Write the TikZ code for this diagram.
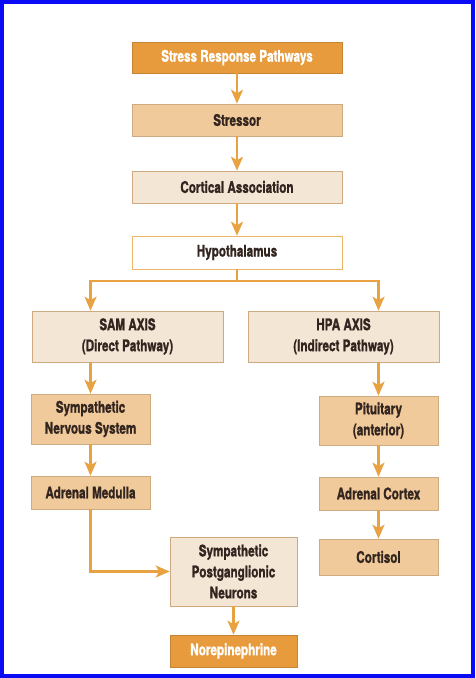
\documentclass[tikz,border=0pt]{standalone}
\usepackage{fontspec}
\setmainfont{TeX Gyre Heros}[FakeStretch=0.73,BoldFeatures={FakeBold=1.2}]
\usepackage{tikz}
\usetikzlibrary{arrows.meta,positioning}
\definecolor{frame}{RGB}{10,10,245}
\definecolor{deep}{RGB}{232,155,60}
\definecolor{soft}{RGB}{241,202,155}
\definecolor{pale}{RGB}{244,230,213}
\definecolor{edge}{RGB}{205,170,130}
\definecolor{flowc}{RGB}{233,162,66}
\definecolor{ink}{RGB}{50,36,30}

\begin{document}
\begin{tikzpicture}[x=1pt,y=-1pt,
	box/.style={draw=edge,line width=0.6pt,inner sep=0pt,align=center,text=ink,
		font=\bfseries\fontsize{16}{21}\selectfont},
	wide/.style={box,minimum width=210pt},
	half/.style={box,minimum width=191pt,minimum height=51pt},
	small/.style={box,minimum width=119pt},
	mid/.style={box,minimum width=127pt},
	head/.style={fill=deep,text=white,draw=deep!85!black},
	flow/.style={draw=flowc,line width=2.2pt,-{Stealth[length=14pt,width=12pt,inset=3.5pt]}},
	link/.style={draw=flowc,line width=2.2pt}]
	% frame
	\draw[frame,line width=3.6pt] (1.8,1.8) rectangle (473.2,676.2);
	% centre column
	\node[wide,head,minimum height=31pt] (title) at (237,57.5) {Stress Response Pathways};
	\node[wide,fill=soft,minimum height=32pt] (stressor) at (237,120) {Stressor};
	\node[wide,fill=pale,minimum height=32pt] (cortical) at (237,187) {Cortical Association};
	\node[wide,fill=white,draw=flowc!80,minimum height=33pt] (hypo) at (237,252.5) {Hypothalamus};
	% two axes
	\node[half,fill=pale] (sam) at (127.5,336.5) {SAM AXIS\\(Direct Pathway)};
	\node[half,fill=pale] (hpa) at (343.5,336.5) {HPA AXIS\\(Indirect Pathway)};
	% SAM side
	\node[small,fill=soft,minimum height=50pt] (sns) at (90.5,419) {Sympathetic\\Nervous System};
	\node[small,fill=soft,minimum height=33pt] (medulla) at (90.5,492.5) {Adrenal Medulla};
	\node[mid,fill=pale,minimum height=69pt] (neurons) at (233.5,571.5) {Sympathetic\\Postganglionic\\Neurons};
	\node[mid,head,minimum height=32pt] (norepi) at (233.5,651) {Norepinephrine};
	% HPA side
	\node[small,fill=soft,minimum height=49pt] (pit) at (378.5,420.5) {Pituitary\\(anterior)};
	\node[small,fill=soft,minimum height=33pt] (cortex) at (378.5,493.5) {Adrenal Cortex};
	\node[small,fill=soft,minimum height=36pt] (cortisol) at (378.5,557) {Cortisol};
	\coordinate (split) at (237,281);

	\draw[flow] (title) -- (stressor);
	\draw[flow] (stressor) -- (cortical);
	\draw[flow] (cortical) -- (hypo);
	\draw[link] (hypo) -- (split);
	\draw[flow] (split) -| (sam.north -| sns);
	\draw[flow] (split) -| (hpa.north -| pit);
	\draw[flow] (sam.south -| sns) -- (sns);
	\draw[flow] (sns) -- (medulla);
	\draw[flow] (medulla) |- (neurons);
	\draw[flow] (neurons) -- (norepi);
	\draw[flow] (hpa.south -| pit) -- (pit);
	\draw[flow] (pit) -- (cortex);
	\draw[flow] (cortex) -- (cortisol);
\end{tikzpicture}
\end{document}
